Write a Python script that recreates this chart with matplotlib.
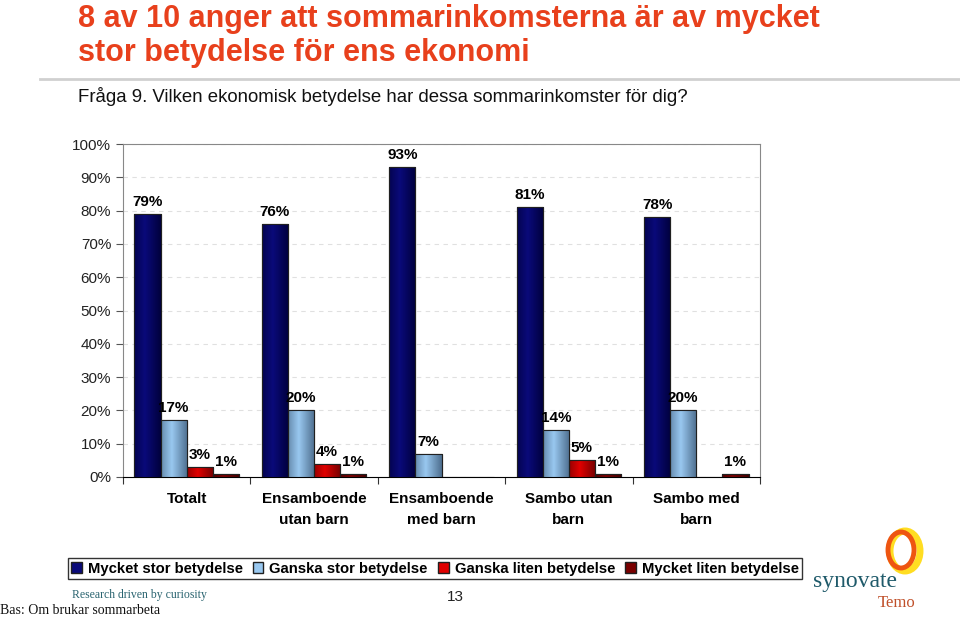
import matplotlib
matplotlib.use("Agg")
import matplotlib.pyplot as plt
import numpy as np
from matplotlib.patches import Ellipse, Rectangle, Patch
from matplotlib.colors import to_rgb

categories = ["Totalt", "Ensamboende\nutan barn", "Ensamboende\nmed barn", "Sambo utan\nbarn", "Sambo med\nbarn"]
series_names = ["Mycket stor betydelse", "Ganska stor betydelse", "Ganska liten betydelse", "Mycket liten betydelse"]
mycket_stor = [79, 76, 93, 81, 78]
ganska_stor = [17, 20, 7, 14, 20]
ganska_liten = [3, 4, 0, 5, 0]
mycket_liten = [1, 1, 0, 1, 1]
yticks = [0, 10, 20, 30, 40, 50, 60, 70, 80, 90, 100]

series = [mycket_stor, ganska_stor, ganska_liten, mycket_liten]
colors = ["#0a0a7a", "#99c8f0", "#e00000", "#7a0000"]
dark = ["#00003a", "#4a6a8a", "#700000", "#400000"]

narrow = ["Liberation Sans Narrow", "Liberation Sans", "DejaVu Sans"]
sans = ["Liberation Sans", "DejaVu Sans"]
serif = ["Liberation Serif", "DejaVu Serif"]

fig = plt.figure(figsize=(9.6, 6.19), dpi=100)
ax = fig.add_axes([123/960, 1-477/619, 637/960, 333/619])

x = np.arange(len(categories))
w = 0.205
for i, (vals, c) in enumerate(zip(series, colors)):
    offs = (i - 1.5) * w
    bars = ax.bar(x + offs, vals, w, color=c, edgecolor="#202020", linewidth=0.8, zorder=3)
    for b, v in zip(bars, vals):
        if v <= 0:
            continue
        grad = np.linspace(0, 1, 64)
        prof = np.clip(1 - np.abs(grad - 0.4) * 1.6, 0, 1)
        c0 = np.array(to_rgb(dark[i])); c1 = np.array(to_rgb(c))
        img = (c0[None, :] * (1 - prof[:, None]) + c1[None, :] * prof[:, None])[None, :, :]
        im = ax.imshow(img, extent=[b.get_x(), b.get_x() + b.get_width(), 0, v],
                       aspect="auto", zorder=3.5, interpolation="bilinear")
        im.set_clip_path(b)
        ax.add_patch(Rectangle((b.get_x(), 0), b.get_width(), v, fill=False,
                               edgecolor="#202020", linewidth=0.8, zorder=4))
    for xi, v in zip(x + offs, vals):
        if v > 0:
            ax.text(xi, v + 1.5, f"{v}%", ha="center", va="bottom", fontsize=11,
                    fontweight="bold", family=sans, zorder=5)

ax.set_xlim(-0.5, len(categories) - 0.5)
ax.set_ylim(0, 100)
ax.set_yticks(yticks)
ax.set_yticklabels([f"{t}%" for t in yticks], family=sans, fontsize=11, color="#222222")
ax.set_xticks(np.arange(len(categories) + 1) - 0.5)
ax.set_xticklabels([])
for xi, lab in zip(x, categories):
    ax.text(xi, -4.5, lab, ha="center", va="top", fontsize=11, fontweight="bold",
            family=sans, linespacing=1.6)
ax.tick_params(axis="x", length=5, color="#333333")
ax.tick_params(axis="y", length=5, color="#555555")
ax.yaxis.grid(True, linestyle=(0, (4, 4)), color="#e0e0e0", linewidth=0.8, zorder=0)
ax.set_axisbelow(True)
for s in ["top", "right", "left"]:
    ax.spines[s].set_color("#888888")
ax.spines["bottom"].set_color("#000000")

handles = [Patch(facecolor=c, edgecolor="#202020") for c in colors]
leg = fig.legend(handles, series_names, loc="center", bbox_to_anchor=(435/960, 1-568.5/619),
                 ncol=4, frameon=True, fancybox=False, edgecolor="#000000",
                 prop={"family": sans, "size": 10.7, "weight": "bold"},
                 handlelength=0.7, handleheight=0.7, handletextpad=0.4, columnspacing=0.7,
                 borderpad=0.25)
leg.get_frame().set_linewidth(1.0)

fig.text(78/960, 1-19/619, "8 av 10 anger att sommarinkomsterna är av mycket", color="#e8401c",
         fontsize=22, fontweight="bold", family=narrow, va="center")
fig.text(78/960, 1-53/619, "stor betydelse för ens ekonomi", color="#e8401c",
         fontsize=22, fontweight="bold", family=narrow, va="center")
fig.add_artist(plt.Line2D([40/960, 1], [1-79/619, 1-79/619], color="#d0d0d0", linewidth=2))
fig.text(78/960, 1-97/619, "Fråga 9. Vilken ekonomisk betydelse har dessa sommarinkomster för dig?",
         fontsize=13.4, family=narrow, va="center", color="#111111")

fig.text(72/960, 1-595/619, "Research driven by curiosity", fontsize=8.5, family=serif,
         color="#2a6470", va="center")
fig.text(455/960, 1-597/619, "13", fontsize=11, family=narrow, va="center", ha="center", color="#222222")
fig.text(0, 1-611/619, "Bas: Om brukar sommarbeta", fontsize=10, family=serif,
         va="center", color="#111111")
fig.text(813/960, 1-582/619, "synovate", fontsize=17, family=serif,
         color="#1f5a6a", va="center")
fig.text(878/960, 1-603/619, "Temo", fontsize=12, family=serif,
         color="#c0502a", va="center")
W, H = 960, 619
fig.add_artist(Ellipse((905/W, 1-551/H), 30/W, 40/H, fill=False, edgecolor="#ffdd22", linewidth=5,
                       transform=fig.transFigure))
fig.add_artist(Ellipse((901/W, 1-550/H), 26/W, 36/H, fill=False, edgecolor="#ee5511", linewidth=3.5,
                       transform=fig.transFigure))

fig.savefig("out.png", dpi=100)
